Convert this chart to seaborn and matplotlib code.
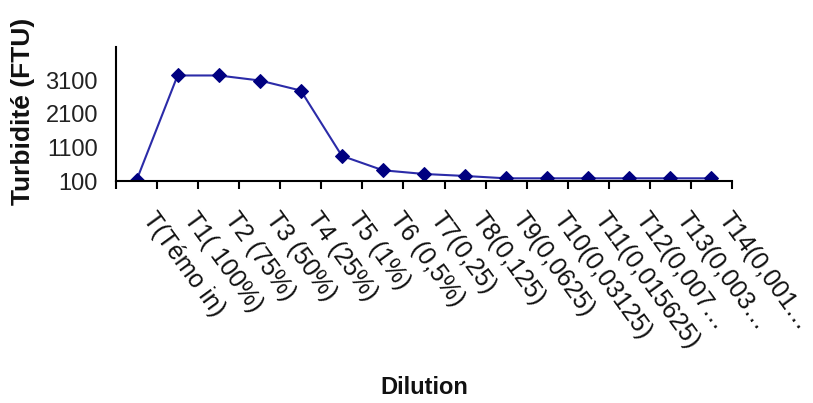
import matplotlib
matplotlib.use("Agg")
import matplotlib.pyplot as plt
import matplotlib.transforms as mtransforms
import numpy as np
import pandas as pd
import seaborn as sns

# Turbidity measured for each dilution of the sample
categories = [
    "T(Témo in)", "T1( 100%)", "T2 (75%)", "T3 (50%)", "T4 (25%)",
    "T5 (1%)", "T6 (0,5%)", "T7(0,25)", "T8(0,125)", "T9(0,0625)",
    "T10(0,03125)", "T11(0,015625)", "T12(0,007…", "T13(0,003…", "T14(0,001…",
]
turbidity = [120, 3250, 3250, 3100, 2800, 850, 420, 310, 250, 180, 180, 180, 180, 180, 180]
y_ticks = [100, 1100, 2100, 3100]

df = pd.DataFrame({"Dilution": categories, "Turbidite": turbidity})

sns.set_theme(style="white")
plt.rcParams["font.family"] = ["Liberation Sans", "DejaVu Sans"]

W, H, DPI = 813, 403, 100
fig = plt.figure(figsize=(W / DPI, H / DPI), dpi=DPI)
ax = fig.add_axes([116 / W, (H - 181) / H, (732 - 116) / W, (181 - 47) / H])

sns.lineplot(
    data=df, x="Dilution", y="Turbidite", sort=False, ax=ax,
    color="#2b2ba8", linewidth=1.5, marker="D", markersize=7,
    markerfacecolor="#000080", markeredgecolor="#000080",
)

ax.set_xlim(-0.5, len(categories) - 0.5)
ax.set_ylim(100, 4100)
ax.set_yticks(y_ticks)
ax.set_yticklabels([str(v) for v in y_ticks], fontsize=17, color="#222222")
ax.tick_params(axis="y", length=0, pad=13)

# category labels at centres, tick marks at category boundaries
pos = np.arange(len(categories))
ax.set_xticks(pos)
ax.set_xticklabels(categories, rotation=-54, ha="left", va="top",
                   rotation_mode="anchor", fontsize=18, color="#111111")
ax.set_xticks(np.arange(len(categories) + 1) - 0.5, minor=True)
ax.tick_params(axis="x", which="major", length=0, pad=0)
ax.tick_params(axis="x", which="minor", length=6, width=1.5, color="black",
               direction="out", bottom=True)
offset = mtransforms.ScaledTranslation(21 / DPI, -27 / DPI, fig.dpi_scale_trans)
for lbl in ax.get_xticklabels():
    lbl.set_transform(lbl.get_transform() + offset)

for side in ("top", "right"):
    ax.spines[side].set_visible(False)
for side in ("left", "bottom"):
    ax.spines[side].set_color("black")
    ax.spines[side].set_linewidth(1.5)

ax.set_xlabel("")
ax.set_ylabel("")
fig.text(23 / W, 1 - 111 / H, "Turbidité (FTU)", rotation=90, ha="center",
         va="center", fontsize=19, fontweight="bold", color="#111111")
fig.text(424 / W, 1 - 388 / H, "Dilution", ha="center", va="center",
         fontsize=17, fontweight="bold", color="#111111")

fig.savefig("out.png", dpi=DPI, facecolor="white")
